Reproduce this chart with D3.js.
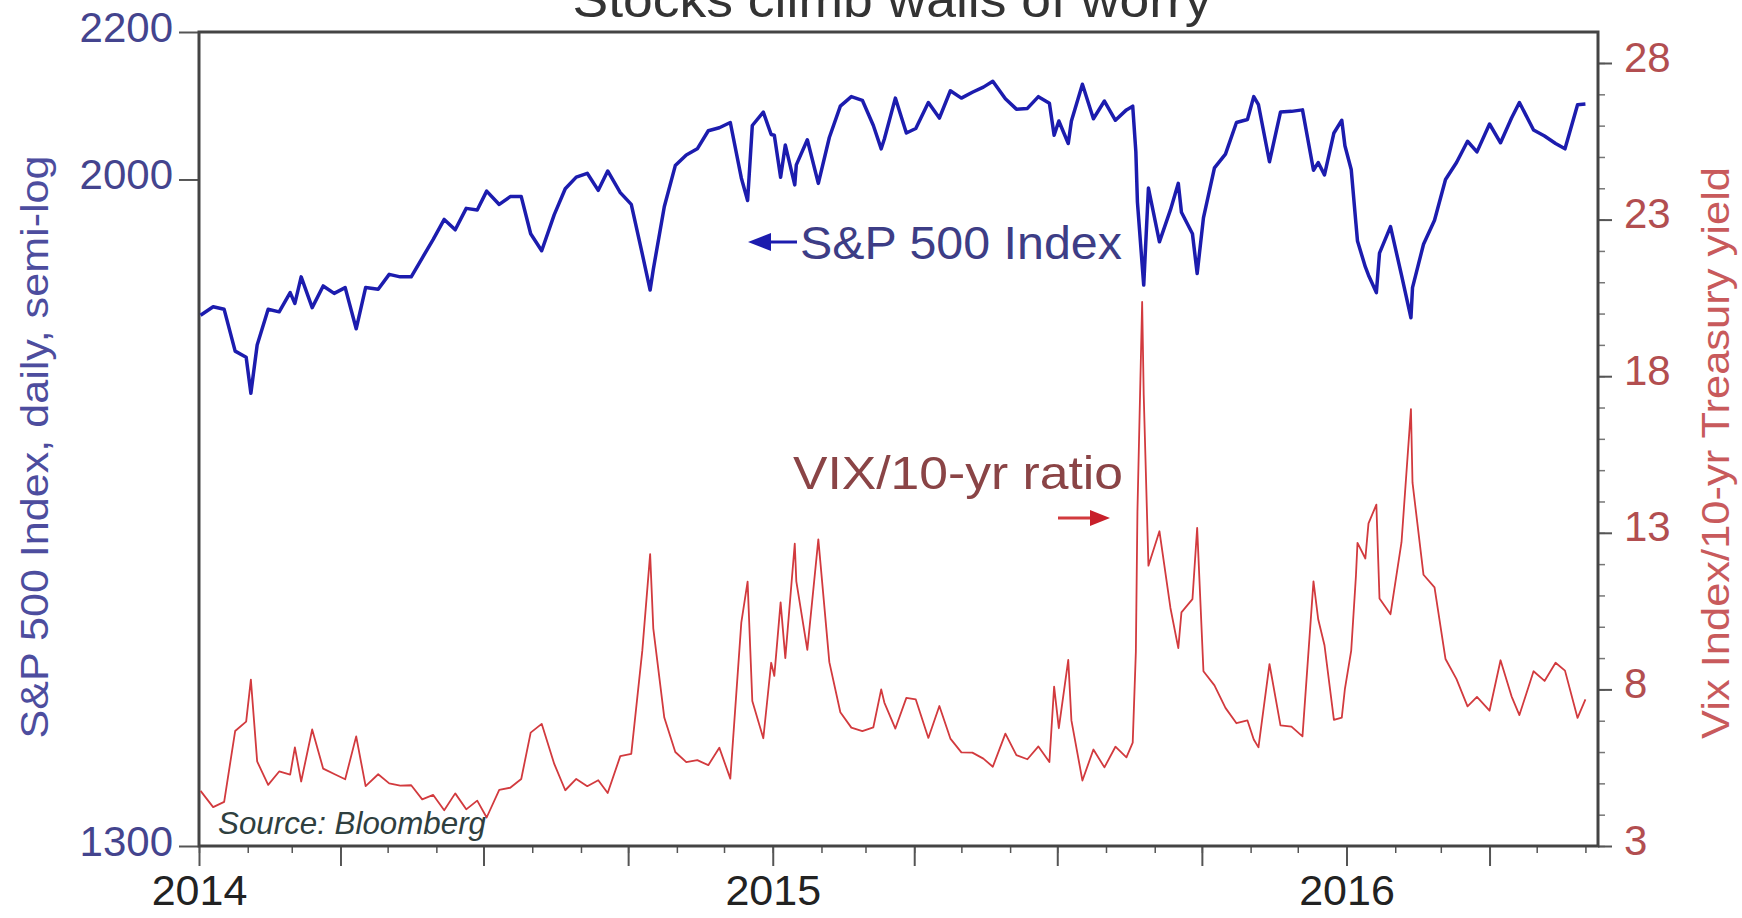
<!DOCTYPE html>
<html><head><meta charset="utf-8">
<script src="https://cdn.jsdelivr.net/npm/d3@7"></script>
<style>body{margin:0;background:#fff}svg{display:block}</style>
</head><body>
<svg id="c" width="1742" height="918"></svg>
<script>
const dates = [
"2014-01-02","2014-01-10","2014-01-17","2014-01-24","2014-01-31","2014-02-03","2014-02-07","2014-02-14","2014-02-21","2014-02-28",
"2014-03-03","2014-03-07","2014-03-14","2014-03-21","2014-03-28","2014-04-04","2014-04-11","2014-04-17","2014-04-25","2014-05-02",
"2014-05-09","2014-05-16","2014-05-23","2014-05-30","2014-06-06","2014-06-13","2014-06-20","2014-06-27","2014-07-03","2014-07-11",
"2014-07-18","2014-07-25","2014-07-31","2014-08-07","2014-08-15","2014-08-22","2014-08-29","2014-09-05","2014-09-12","2014-09-18",
"2014-09-26","2014-10-03","2014-10-10","2014-10-15","2014-10-17","2014-10-24","2014-10-31","2014-11-07","2014-11-14","2014-11-21",
"2014-11-28","2014-12-05","2014-12-12","2014-12-16","2014-12-19","2014-12-26","2014-12-31",
"2015-01-02","2015-01-06","2015-01-09","2015-01-15","2015-01-16","2015-01-23","2015-01-30","2015-02-06","2015-02-13","2015-02-20",
"2015-02-27","2015-03-06","2015-03-11","2015-03-13","2015-03-20","2015-03-27","2015-04-02","2015-04-10","2015-04-17","2015-04-24",
"2015-05-01","2015-05-08","2015-05-15","2015-05-21","2015-05-29","2015-06-05","2015-06-12","2015-06-19","2015-06-26","2015-06-29",
"2015-07-02","2015-07-08","2015-07-10","2015-07-17","2015-07-24","2015-07-31","2015-08-07","2015-08-14","2015-08-18","2015-08-20",
"2015-08-21","2015-08-24","2015-08-25","2015-08-28","2015-09-04","2015-09-11","2015-09-16","2015-09-18","2015-09-25","2015-09-28",
"2015-10-02","2015-10-09","2015-10-16","2015-10-23","2015-10-30","2015-11-03","2015-11-06","2015-11-13","2015-11-20","2015-11-27",
"2015-12-04","2015-12-11","2015-12-14","2015-12-18","2015-12-24","2015-12-29","2015-12-31",
"2016-01-04","2016-01-07","2016-01-08","2016-01-13","2016-01-15","2016-01-20","2016-01-22","2016-01-29","2016-02-05","2016-02-11",
"2016-02-12","2016-02-19","2016-02-26","2016-03-04","2016-03-11","2016-03-18","2016-03-24","2016-04-01","2016-04-08","2016-04-15",
"2016-04-20","2016-04-29","2016-05-06","2016-05-13","2016-05-19","2016-05-27","2016-06-01"
];
const sp500 = [
1832,1842,1839,1790,1783,1742,1797,1839,1836,1859,
1846,1878,1841,1867,1858,1865,1816,1865,1863,1881,
1878,1878,1901,1924,1949,1936,1963,1961,1985,1968,
1978,1978,1931,1910,1955,1988,2003,2008,1986,2011,
1983,1968,1906,1862,1887,1965,2018,2032,2040,2064,
2068,2075,2002,1973,2071,2089,2059,
2058,2003,2045,1993,2019,2052,1995,2055,2097,2110,
2105,2071,2040,2053,2108,2061,2067,2102,2081,2118,
2108,2116,2123,2131,2107,2093,2094,2110,2101,2058,
2077,2047,2077,2127,2080,2104,2078,2092,2097,2036,
1971,1893,1868,1989,1921,1961,1995,1958,1931,1882,
1951,2015,2033,2075,2079,2110,2099,2023,2089,2090,
2092,2012,2022,2006,2061,2078,2044,
2013,1944,1922,1890,1880,1859,1907,1940,1880,1829,
1865,1918,1948,2000,2022,2050,2036,2073,2048,2081,
2102,2065,2057,2047,2040,2099,2100
];
const vixRatio = [
4.76,4.24,4.41,6.67,6.97,8.31,5.70,4.95,5.38,5.28,
6.15,5.06,6.72,5.47,5.30,5.13,6.50,4.91,5.29,5.00,
4.93,4.94,4.49,4.63,4.14,4.68,4.17,4.45,3.91,4.79,
4.86,5.14,6.62,6.90,5.62,4.78,5.14,4.91,5.10,4.69,
5.87,5.94,9.23,12.32,9.95,7.10,6.00,5.68,5.74,5.58,
6.14,5.15,10.13,11.44,7.63,6.44,8.85,
8.43,10.78,9.00,12.65,11.45,9.26,12.79,8.87,7.27,6.78,
6.67,6.79,8.00,7.58,6.75,7.73,7.68,6.45,7.47,6.43,
5.99,5.98,5.79,5.53,6.59,5.90,5.77,6.18,5.68,8.09,
6.76,8.94,7.01,5.09,6.08,5.51,6.17,5.83,6.30,9.20,
13.67,20.37,17.40,11.95,13.05,10.60,9.32,10.46,10.88,13.16,
8.58,8.13,7.41,6.92,7.01,6.40,6.15,8.81,6.85,6.81,
6.50,11.45,10.24,9.41,7.03,7.10,8.02,
9.24,11.62,12.68,12.18,13.30,13.90,10.90,10.40,12.70,16.95,
14.60,11.66,11.26,8.97,8.33,7.46,7.76,7.32,8.93,7.78,
7.18,8.58,8.27,8.85,8.60,7.09,7.68
];
const leftTicks = [1300, 2000, 2200];
const rightTicks = [3, 8, 13, 18, 23, 28];
const yearLabels = ["2014", "2015", "2016"];
const titleText = "Stocks climb walls of worry";

const parse = d3.timeParse("%Y-%m-%d");
const data = dates.map((d, i) => ({date: parse(d), sp: sp500[i], vr: vixRatio[i]}));

const svg = d3.select("#c");
const FONT = "'Liberation Sans', Arial, sans-serif";
const L = 199, R = 1598, T = 32, B = 846;

const x = d3.scaleTime().domain([new Date(2014,0,1), new Date(2016,5,9)]).range([L, R]);
const yL = d3.scaleLog().domain([1300, 2200]).range([B, T]);
const yR = d3.scaleLinear().domain([3, 28]).range([B, 63]);

// title (cut off at top)
svg.append("text").attr("x", 892).attr("y", 17).attr("text-anchor", "middle")
  .attr("font-family", FONT).attr("font-size", 50).attr("fill", "#333")
  .attr("textLength", 639).attr("lengthAdjust", "spacingAndGlyphs").text(titleText);

// bottom axis: monthly minor ticks
const months = d3.timeMonth.range(new Date(2014,0,1), new Date(2016,5,10));
svg.append("g").attr("transform", `translate(0,${B})`)
  .call(d3.axisBottom(x).tickValues(months).tickSize(7).tickFormat(""))
  .call(g => g.select(".domain").remove())
  .call(g => g.selectAll("line").attr("stroke", "#555").attr("stroke-width", 1.5));
// quarter ticks + year labels
const quarters = d3.timeMonth.every(3).range(new Date(2014,0,1), new Date(2016,5,10));
svg.append("g").attr("transform", `translate(0,${B})`)
  .call(d3.axisBottom(x).tickValues(quarters).tickSize(20)
    .tickFormat(d => d.getMonth() === 0 ? yearLabels[d.getFullYear() - 2014] : ""))
  .call(g => g.select(".domain").remove())
  .call(g => g.selectAll("line").attr("stroke", "#555").attr("stroke-width", 2))
  .call(g => g.selectAll("text").attr("y", 59).attr("dy", 0)
    .attr("font-family", FONT).attr("font-size", 43).attr("fill", "#222"));

// left axis
svg.append("g").attr("transform", `translate(${L},0)`)
  .call(d3.axisLeft(yL).tickValues(leftTicks).tickSize(20).tickPadding(6).tickFormat(d3.format("d")))
  .call(g => g.select(".domain").remove())
  .call(g => g.selectAll("line").attr("stroke", "#555").attr("stroke-width", 2))
  .call(g => g.selectAll("text").attr("dy", 9)
    .attr("font-family", FONT).attr("font-size", 42).attr("fill", "#44448e"));

// right axis minor ticks
svg.append("g").attr("transform", `translate(${R},0)`)
  .call(d3.axisRight(yR).tickValues(d3.range(3, 29)).tickSize(7).tickFormat(""))
  .call(g => g.select(".domain").remove())
  .call(g => g.selectAll("line").attr("stroke", "#777").attr("stroke-width", 1.5));
svg.append("g").attr("transform", `translate(${R},0)`)
  .call(d3.axisRight(yR).tickValues(rightTicks).tickSize(14).tickPadding(12).tickFormat(d3.format("d")))
  .call(g => g.select(".domain").remove())
  .call(g => g.selectAll("line").attr("stroke", "#555").attr("stroke-width", 2))
  .call(g => g.selectAll("text").attr("dy", 8)
    .attr("font-family", FONT).attr("font-size", 42).attr("fill", "#b24e50"));

// frame
svg.append("rect").attr("x", L).attr("y", T).attr("width", R - L).attr("height", B - T)
  .attr("fill", "none").attr("stroke", "#444").attr("stroke-width", 3);

// axis titles
svg.append("text").attr("transform", "translate(35,447) rotate(-90)")
  .attr("text-anchor", "middle").attr("dominant-baseline", "central")
  .attr("font-family", FONT).attr("font-size", 38).attr("fill", "#4d4d9e")
  .attr("textLength", 583).attr("lengthAdjust", "spacingAndGlyphs")
  .text("S&P 500 Index, daily, semi-log");
svg.append("text").attr("transform", "translate(1716,453) rotate(-90)")
  .attr("text-anchor", "middle").attr("dominant-baseline", "central")
  .attr("font-family", FONT).attr("font-size", 38).attr("fill", "#c85a5c")
  .attr("textLength", 572).attr("lengthAdjust", "spacingAndGlyphs")
  .text("Vix Index/10-yr Treasury yield");

// lines
const lineVR = d3.line().x(d => x(d.date)).y(d => yR(d.vr));
const lineSP = d3.line().x(d => x(d.date)).y(d => yL(d.sp));
svg.append("path").datum(data).attr("d", lineVR).attr("fill", "none")
  .attr("stroke", "#d23a3e").attr("stroke-width", 1.8).attr("stroke-linejoin", "round");
svg.append("path").datum(data).attr("d", lineSP).attr("fill", "none")
  .attr("stroke", "#1c1cae").attr("stroke-width", 3.5).attr("stroke-linejoin", "round");

// annotations
svg.append("polygon").attr("points", "748,242 771,233 771,251").attr("fill", "#1c1cae");
svg.append("line").attr("x1", 770).attr("x2", 797).attr("y1", 242).attr("y2", 242)
  .attr("stroke", "#1c1cae").attr("stroke-width", 3);
svg.append("text").attr("x", 800).attr("y", 259)
  .attr("font-family", FONT).attr("font-size", 47).attr("fill", "#3d3d86")
  .attr("textLength", 322).attr("lengthAdjust", "spacingAndGlyphs").text("S&P 500 Index");

svg.append("text").attr("x", 793).attr("y", 489)
  .attr("font-family", FONT).attr("font-size", 47).attr("fill", "#8a4446")
  .attr("textLength", 330).attr("lengthAdjust", "spacingAndGlyphs").text("VIX/10-yr ratio");
svg.append("line").attr("x1", 1058).attr("x2", 1092).attr("y1", 518).attr("y2", 518)
  .attr("stroke", "#d23a3e").attr("stroke-width", 3);
svg.append("polygon").attr("points", "1110,518 1090,510 1090,526").attr("fill", "#c8202a");

svg.append("text").attr("x", 218).attr("y", 834)
  .attr("font-family", FONT).attr("font-style", "italic").attr("font-size", 32).attr("fill", "#2f3f3f")
  .attr("textLength", 268).attr("lengthAdjust", "spacingAndGlyphs").text("Source: Bloomberg");
</script>
</body></html>
